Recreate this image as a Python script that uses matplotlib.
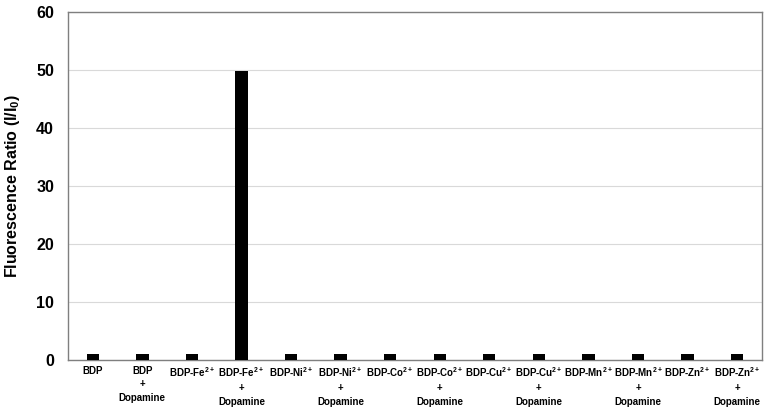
import matplotlib.pyplot as plt
import numpy as np

plt.rcParams['font.family'] = ['Liberation Sans', 'DejaVu Sans']
plt.rcParams['mathtext.fontset'] = 'custom'
plt.rcParams['mathtext.rm'] = 'Liberation Sans:bold'
plt.rcParams['mathtext.it'] = 'Liberation Sans:bold'
plt.rcParams['mathtext.bf'] = 'Liberation Sans:bold'

# data
labels = ['BDP', 'BDP\n+\nDopamine',
          'BDP-Fe$^{2+}$', 'BDP-Fe$^{2+}$\n+\nDopamine',
          'BDP-Ni$^{2+}$', 'BDP-Ni$^{2+}$\n+\nDopamine',
          'BDP-Co$^{2+}$', 'BDP-Co$^{2+}$\n+\nDopamine',
          'BDP-Cu$^{2+}$', 'BDP-Cu$^{2+}$\n+\nDopamine',
          'BDP-Mn$^{2+}$', 'BDP-Mn$^{2+}$\n+\nDopamine',
          'BDP-Zn$^{2+}$', 'BDP-Zn$^{2+}$\n+\nDopamine']
ratio = [1.0, 1.0, 1.0, 49.8, 1.0, 1.0, 1.0, 1.1, 1.0, 1.0, 1.0, 1.0, 1.0, 1.0]
yticks = [0, 10, 20, 30, 40, 50, 60]

fig = plt.figure(figsize=(7.71, 4.11), dpi=100)
ax = fig.add_axes([0.0882, 0.124, 0.9, 0.847])

x = np.arange(len(labels))
ax.bar(x, ratio, width=0.25, color='black', zorder=3)

ax.set_xlim(-0.5, len(labels) - 0.5)
ax.set_ylim(0, 60)
ax.set_yticks(yticks)
ax.set_yticklabels([str(t) for t in yticks], fontsize=11.5, fontweight='bold')
ax.set_xticks(x)
ax.set_xticklabels(labels, fontsize=7, fontweight='bold', linespacing=1.45, va='top')
ax.tick_params(axis='both', length=0)
ax.tick_params(axis='x', pad=4)
ax.tick_params(axis='y', pad=10)

ax.grid(axis='y', color='#d9d9d9', linewidth=0.8, zorder=0)
for s in ax.spines.values():
    s.set_color('#7f7f7f')
    s.set_linewidth(1.0)

ax.set_ylabel('Fluorescence Ratio (I/I$_0$)', fontsize=11.5, fontweight='bold', labelpad=10)

fig.savefig('out.png', dpi=100)
